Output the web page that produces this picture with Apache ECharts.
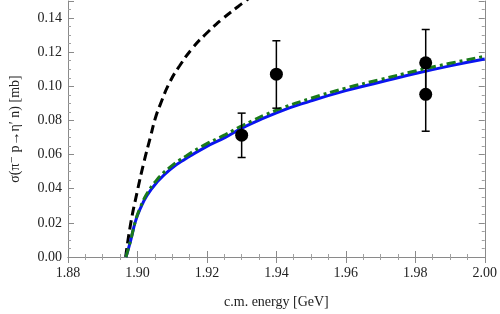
<!DOCTYPE html>
<html>
<head>
<meta charset="utf-8">
<script src="https://cdn.jsdelivr.net/npm/echarts@6/dist/echarts.min.js"></script>
<style>
  html, body { margin: 0; padding: 0; background: #fff; }
  #chart { width: 500px; height: 314px; }
</style>
</head>
<body>
<div id="chart"></div>
<script>
// energies (GeV) and cross sections (mb)
var blueX  = [1.8967, 1.898, 1.8994, 1.9008, 1.9027, 1.9055, 1.9093, 1.914, 1.9196, 1.9253, 1.9304, 1.94, 1.95, 1.96, 1.97, 1.98, 1.99, 2.00];
var blueY  = [0, 0.0093, 0.0207, 0.0283, 0.0359, 0.0435, 0.0511, 0.0577, 0.0644, 0.0701, 0.0758, 0.0845, 0.0915, 0.0975, 0.1025, 0.1075, 0.112, 0.116];
var greenY = [0, 0.0095, 0.021, 0.029, 0.037, 0.045, 0.0525, 0.0592, 0.066, 0.0717, 0.0772, 0.086, 0.093, 0.099, 0.104, 0.109, 0.1135, 0.1176];
var blackX = [1.8966, 1.898, 1.8999, 1.9018, 1.9037, 1.9051, 1.9065, 1.9093, 1.9121, 1.9159, 1.9196, 1.9243, 1.929, 1.9307, 1.935];
var blackY = [0, 0.019, 0.038, 0.055, 0.070, 0.081, 0.089, 0.1024, 0.1119, 0.1225, 0.1305, 0.1392, 0.1468, 0.1494, 0.156];
// measured points with error bars
var expX    = [1.930, 1.940, 1.983, 1.983];
var expY    = [0.0714, 0.1071, 0.1138, 0.0953];
var expLow  = [0.0583, 0.0872, 0.0945, 0.0737];
var expHigh = [0.0843, 0.1267, 0.1333, 0.1160];

function pairs(xs, ys) {
  return xs.map(function (x, i) { return [x, ys[i]]; });
}

var chart = echarts.init(document.getElementById('chart'));
var serif = '"Liberation Serif", "DejaVu Serif", serif';
var frameLine = { show: true, lineStyle: { color: '#8a8a8a', width: 1 } };

var xBase = {
  type: 'value', min: 1.88, max: 2.00, interval: 0.02,
  axisLine: frameLine,
  axisTick: { show: true, inside: true, length: 6, lineStyle: { color: '#8a8a8a' } },
  minorTick: { show: true, splitNumber: 4, length: 3, lineStyle: { color: '#a0a0a0' } },
  splitLine: { show: false }
};
var yBase = {
  type: 'value', min: 0, max: 0.15, interval: 0.02,
  axisLine: frameLine,
  axisTick: { show: true, inside: true, length: 6, lineStyle: { color: '#8a8a8a' } },
  minorTick: { show: true, splitNumber: 4, length: 3, lineStyle: { color: '#a0a0a0' } },
  splitLine: { show: false }
};

var option = {
  animation: false,
  backgroundColor: '#fff',
  grid: { left: 61, right: 13, top: 1, bottom: 51 },
  xAxis: [
    Object.assign({}, xBase, {
      position: 'bottom',
      name: 'c.m. energy [GeV]', nameLocation: 'middle', nameGap: 38,
      nameTextStyle: { fontFamily: serif, fontSize: 14, color: '#222' },
      axisLabel: { fontFamily: serif, fontSize: 14, color: '#222', margin: 9,
        formatter: function (v) { return v.toFixed(2); } }
    }),
    Object.assign({}, xBase, { position: 'top', axisLabel: { show: false } })
  ],
  yAxis: [
    Object.assign({}, yBase, {
      position: 'left',
      name: 'σ(π⁻ p→η′ n) [mb]', nameLocation: 'middle', nameGap: 46,
      nameTextStyle: { fontFamily: serif, fontSize: 14, color: '#222' },
      axisLabel: { fontFamily: serif, fontSize: 14, color: '#222', margin: 6,
        showMaxLabel: false,
        formatter: function (v) { return v.toFixed(2); } }
    }),
    Object.assign({}, yBase, { position: 'right', axisLabel: { show: false } })
  ],
  series: [
    {
      type: 'line', data: pairs(blackX, blackY), showSymbol: false, symbol: 'none',
      smooth: 0.5, clip: true,
      lineStyle: { color: '#000', width: 3, type: [9, 5] }, z: 2
    },
    {
      type: 'line', data: pairs(blueX, blueY), showSymbol: false, symbol: 'none',
      smooth: 0.5,
      lineStyle: { color: '#0a14f0', width: 3 }, z: 3
    },
    {
      type: 'line', data: pairs(blueX, greenY), showSymbol: false, symbol: 'none',
      smooth: 0.5,
      lineStyle: { color: '#1a7a1a', width: 3, type: [9, 4, 3, 4] }, z: 4
    },
    {
      type: 'custom', z: 5,
      data: expX.map(function (x, i) { return [x, expLow[i], expHigh[i]]; }),
      renderItem: function (params, api) {
        var lo = api.coord([api.value(0), api.value(1)]);
        var hi = api.coord([api.value(0), api.value(2)]);
        var w = 4;
        var st = { stroke: '#000', lineWidth: 1.5 };
        return {
          type: 'group',
          children: [
            { type: 'line', shape: { x1: lo[0], y1: lo[1], x2: hi[0], y2: hi[1] }, style: st },
            { type: 'line', shape: { x1: lo[0] - w, y1: lo[1], x2: lo[0] + w, y2: lo[1] }, style: st },
            { type: 'line', shape: { x1: hi[0] - w, y1: hi[1], x2: hi[0] + w, y2: hi[1] }, style: st }
          ]
        };
      },
      encode: { x: 0, y: [1, 2] }
    },
    {
      type: 'scatter', data: pairs(expX, expY), symbol: 'circle', symbolSize: 13,
      itemStyle: { color: '#000', opacity: 1 }, z: 6
    }
  ]
};
chart.setOption(option);
</script>
</body>
</html>
